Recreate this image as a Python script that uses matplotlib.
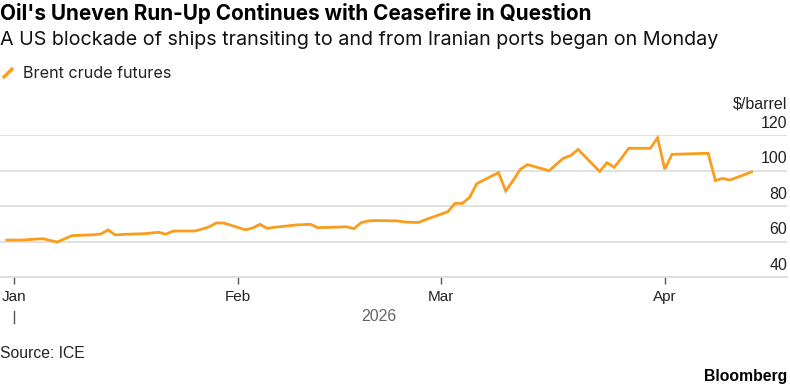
import numpy as np
import pandas as pd
import matplotlib
matplotlib.use("Agg")
import matplotlib.pyplot as plt
import matplotlib.transforms as mtransforms
from matplotlib.lines import Line2D

plt.rcParams['font.family'] = ['Liberation Sans', 'DejaVu Sans']

# Brent crude futures, $/barrel
dates = pd.to_datetime([
    "2025-12-31", "2026-01-02",
    "2026-01-05", "2026-01-06", "2026-01-07", "2026-01-08", "2026-01-09",
    "2026-01-12", "2026-01-13", "2026-01-14", "2026-01-15", "2026-01-16",
    "2026-01-19", "2026-01-20", "2026-01-21", "2026-01-22", "2026-01-23",
    "2026-01-26", "2026-01-27", "2026-01-28", "2026-01-29", "2026-01-30",
    "2026-02-02", "2026-02-03", "2026-02-04", "2026-02-05", "2026-02-06",
    "2026-02-09", "2026-02-10", "2026-02-11", "2026-02-12", "2026-02-13",
    "2026-02-16", "2026-02-17", "2026-02-18", "2026-02-19", "2026-02-20",
    "2026-02-23", "2026-02-24", "2026-02-25", "2026-02-26", "2026-02-27",
    "2026-03-02", "2026-03-03", "2026-03-04", "2026-03-05", "2026-03-06",
    "2026-03-09", "2026-03-10", "2026-03-11", "2026-03-12", "2026-03-13",
    "2026-03-16", "2026-03-17", "2026-03-18", "2026-03-19", "2026-03-20",
    "2026-03-23", "2026-03-24", "2026-03-25", "2026-03-26", "2026-03-27",
    "2026-03-30", "2026-03-31", "2026-04-01", "2026-04-02",
    "2026-04-07", "2026-04-08", "2026-04-09", "2026-04-10",
    "2026-04-13",
])
brent = [
    60.8, 60.8,
    61.6, 60.6, 59.7, 61.5, 63.3,
    63.8, 64.2, 66.5, 63.7, 64.0,
    64.4, 64.8, 65.2, 64.1, 65.9,
    65.9, 67.0, 68.3, 70.5, 70.4,
    66.6, 67.6, 69.7, 67.4, 68.0,
    69.3, 69.5, 69.7, 67.8, 67.9,
    68.3, 67.2, 70.6, 71.6, 71.8,
    71.6, 71.0, 70.8, 70.8, 72.4,
    76.8, 81.5, 81.5, 84.8, 92.6,
    98.8, 88.5, 94.2, 100.6, 103.3,
    99.9, 103.5, 107.0, 108.4, 111.9,
    99.4, 104.4, 101.8, 106.9, 112.5,
    112.5, 118.4, 100.7, 109.1,
    109.7, 94.3, 95.6, 94.6,
    99.2,
]

month_ticks = pd.to_datetime(["2026-01-01", "2026-02-01", "2026-03-01", "2026-04-01"])
month_labels = ["Jan", "Feb", "Mar", "Apr"]
y_ticks = [40, 60, 80, 100, 120]

orange = "#F99D1C"
grid_c = "#dcdcdc"
head_font = ['Inter', 'DejaVu Sans']

W, H = 790, 386
fig = plt.figure(figsize=(W / 100, H / 100), dpi=100)
ax = fig.add_axes([0, (H - 277) / H, 787 / W, 142 / H])

ax.plot(dates, brent, color=orange, lw=2.0, solid_joinstyle="miter", zorder=3)

day = pd.Timedelta(days=1)
ax.set_xlim(month_ticks[0] - 1.94 * day, month_ticks[0] + 106.9 * day)
ax.set_ylim(40, 120)

for s in ["top", "left", "right"]:
    ax.spines[s].set_visible(False)
ax.spines["bottom"].set_color(grid_c)
ax.spines["bottom"].set_linewidth(1.2)

ax.yaxis.tick_right()
ax.set_yticks(y_ticks)
ax.grid(axis="y", color=grid_c, lw=1.2)
ax.tick_params(axis="y", length=0, pad=0, labelsize=11.5, labelcolor="#222222")
offset = mtransforms.ScaledTranslation(0, 3 / 72, fig.dpi_scale_trans)
for lab in ax.get_yticklabels():
    lab.set_horizontalalignment("right")
    lab.set_verticalalignment("bottom")
    lab.set_transform(lab.get_transform() + offset)

ax.set_xticks(month_ticks)
ax.set_xticklabels(month_labels)
ax.tick_params(axis="x", length=5, width=1, color="#555555", pad=4.5,
               labelsize=11, labelcolor="#222222")

# year label and its tick
trans = mtransforms.blended_transform_factory(ax.transData, ax.transAxes)
ax.plot([month_ticks[0], month_ticks[0]], [-0.24, -0.325], color="#555555",
        lw=1, transform=trans, clip_on=False)
mid = dates[0] + (dates[-1] - dates[0]) / 2
ax.text(mid, -0.28, "2026", transform=trans, ha="center", va="center",
        fontsize=11.5, color="#666666")

ax.text(1.0, 1.215, "$/barrel", transform=ax.transAxes, ha="right", va="center",
        fontsize=11.5, color="#222222")

# header
fig.text(0.0, 1 - 14 / H, "Oil's Uneven Run-Up Continues with Ceasefire in Question",
         ha="left", va="center", fontsize=14.9, fontweight="bold", color="#000000",
         family=head_font)
fig.text(0.0, 1 - 40 / H, "A US blockade of ships transiting to and from Iranian ports began on Monday",
         ha="left", va="center", fontsize=14.2, color="#111111", family=head_font)

# legend
fig.add_artist(Line2D([3 / W, 13 / W], [1 - 78 / H, 1 - 68 / H], color=orange,
                      lw=2.5, solid_capstyle="butt"))
fig.text(23 / W, 1 - 73 / H, "Brent crude futures", ha="left", va="center",
         fontsize=11.6, color="#222222", family=head_font)

fig.text(0.0, 1 - 353 / H, "Source: ICE", ha="left", va="center",
         fontsize=11.3, color="#222222")
fig.text(787 / W, 1 - 376 / H, "Bloomberg", ha="right", va="center",
         fontsize=11.3, fontweight="bold", color="#000000")

fig.savefig("out.png", dpi=100)
